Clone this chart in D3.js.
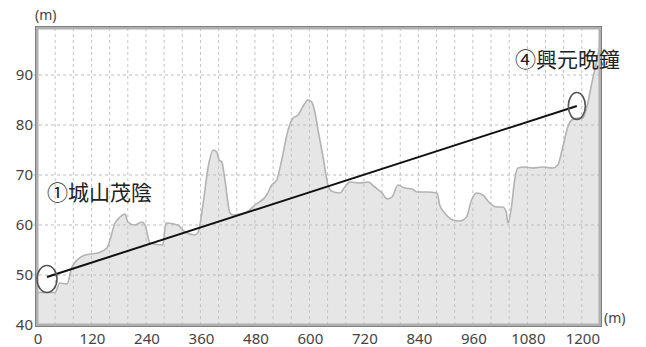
<!DOCTYPE html>
<html><head><meta charset="utf-8">
<script src="https://cdn.jsdelivr.net/npm/d3@7"></script>
<style>html,body{margin:0;padding:0;background:#fff;}svg{display:block;}</style>
</head><body>
<svg id="c" width="646" height="347"></svg>
<script>
const distance = [0,40,50,66,77,106,134,154,172,183,194,200,216,231,238,249,277,284,310,326,348,355,366,377,388,396,401,407,414,425,432,462,480,506,517,528,539,553,564,575,585,597,605,612,619,630,641,648,667,678,689,711,729,744,760,771,782,795,810,826,837,859,881,887,898,916,931,946,957,968,982,997,1012,1026,1034,1037,1045,1052,1059,1074,1092,1114,1136,1147,1158,1169,1178,1191,1202,1211,1222,1233,1240];
const elevation = [46.5,46.5,48.4,48.2,51.6,54,54.4,55.4,60.4,61.6,62.2,60.6,60,60.6,60,56.4,56,60.4,60,58.6,58,58.6,64.4,71.6,75,74.6,73,72.6,69,62.4,62,62.6,64,66,68,69,73,79,81.4,82,83.6,85,84.6,82.6,79,73.6,68,66.8,66.4,67.6,68.6,68.4,68.6,67.6,66.4,65.2,65.6,68,67.4,67.2,66.6,66.6,66.4,64,62.4,61,60.8,61.6,65,66.4,66,64.4,63.6,63.6,62.4,60.4,63.6,69,71.4,71.6,71.4,71.6,71.4,72,75.6,79.6,81,81.4,81.4,83.6,88.4,93,96];
const xTicks = [0,120,240,360,480,600,720,840,960,1080,1200];
const yTicks = [40,50,60,70,80,90];
const markerX = [22, 1189];
const markerY = [49.6, 83.8];
const markerLabels = ["①城山茂陰", "④興元晩鐘"];

const svg = d3.select("#c");
const L = 37, T = 28, R = 600, B = 325;
const x = d3.scaleLinear().domain([0, 1240]).range([L, R]);
const y = d3.scaleLinear().domain([40, 99.4]).range([B, T]);
const pts = distance.map((d, i) => [d, elevation[i]]);

// area fill
svg.append("path").datum(pts)
  .attr("d", d3.area().x(d => x(d[0])).y0(B).y1(d => y(d[1])).curve(d3.curveMonotoneX))
  .attr("fill", "#e6e6e6");

// grid
const g = svg.append("g");
g.selectAll(".vg").data(d3.range(40, 1240, 40)).join("line")
  .attr("x1", d => x(d)).attr("x2", d => x(d)).attr("y1", T).attr("y2", B)
  .attr("stroke", "#c4c4c4").attr("stroke-width", 1).attr("stroke-dasharray", "3,3");
g.selectAll(".hg").data(yTicks.slice(1)).join("line")
  .attr("x1", L - 4).attr("x2", R).attr("y1", d => y(d)).attr("y2", d => y(d))
  .attr("stroke", "#bdbdbd").attr("stroke-width", 1).attr("stroke-dasharray", "3,3");

// profile line
svg.append("path").datum(pts)
  .attr("d", d3.line().x(d => x(d[0])).y(d => y(d[1])).curve(d3.curveMonotoneX))
  .attr("fill", "none").attr("stroke", "#b3b3b3").attr("stroke-width", 1.6);

// frame (inner light, outer darker)
svg.append("rect").attr("x", L).attr("y", T).attr("width", R - L).attr("height", B - T)
  .attr("fill", "none").attr("stroke", "#b0b0b0").attr("stroke-width", 3);
svg.append("rect").attr("x", L - 1.5).attr("y", T - 1.5).attr("width", R - L + 3).attr("height", B - T + 3)
  .attr("fill", "none").attr("stroke", "#808080").attr("stroke-width", 1);

// axis labels
const font = "'Noto Sans', 'Open Sans', sans-serif";
svg.selectAll(".yt").data(yTicks).join("text")
  .attr("x", 33).attr("y", d => y(d)).attr("dy", "0.35em").attr("text-anchor", "end")
  .attr("font-family", font).attr("font-size", 15).attr("fill", "#444").text(d => d);
svg.selectAll(".xt").data(xTicks).join("text")
  .attr("x", d => x(d) + 1).attr("y", 344).attr("text-anchor", "middle")
  .attr("font-family", font).attr("font-size", 15).attr("fill", "#444").text(d => d);
svg.append("text").attr("x", 35).attr("y", 20).attr("font-family", font).attr("font-size", 14)
  .attr("fill", "#444").text("(m)");
svg.append("text").attr("x", 604).attr("y", 323).attr("font-family", font).attr("font-size", 14)
  .attr("fill", "#444").text("(m)");

// connecting line
svg.append("line")
  .attr("x1", x(markerX[0])).attr("y1", y(markerY[0]))
  .attr("x2", x(markerX[1])).attr("y2", y(markerY[1]))
  .attr("stroke", "#111").attr("stroke-width", 2);

// ellipses
svg.selectAll(".el").data(markerX).join("ellipse")
  .attr("cx", d => x(d)).attr("cy", (d, i) => y(markerY[i]) + (i === 0 ? 2 : 0))
  .attr("rx", (d, i) => i === 0 ? 10 : 8.5).attr("ry", 13.5)
  .attr("fill", "none").attr("stroke", "#555").attr("stroke-width", 1.6);

// labels
const cjk = "'Noto Sans CJK JP', 'Noto Sans CJK SC', sans-serif";
const labelPos = [[47, 200], [515, 67]];
svg.selectAll(".lb").data(markerLabels).join("text")
  .attr("x", (d, i) => labelPos[i][0]).attr("y", (d, i) => labelPos[i][1])
  .attr("font-family", cjk).attr("font-size", 21).attr("fill", "#222").text(d => d);
</script>
</body></html>
